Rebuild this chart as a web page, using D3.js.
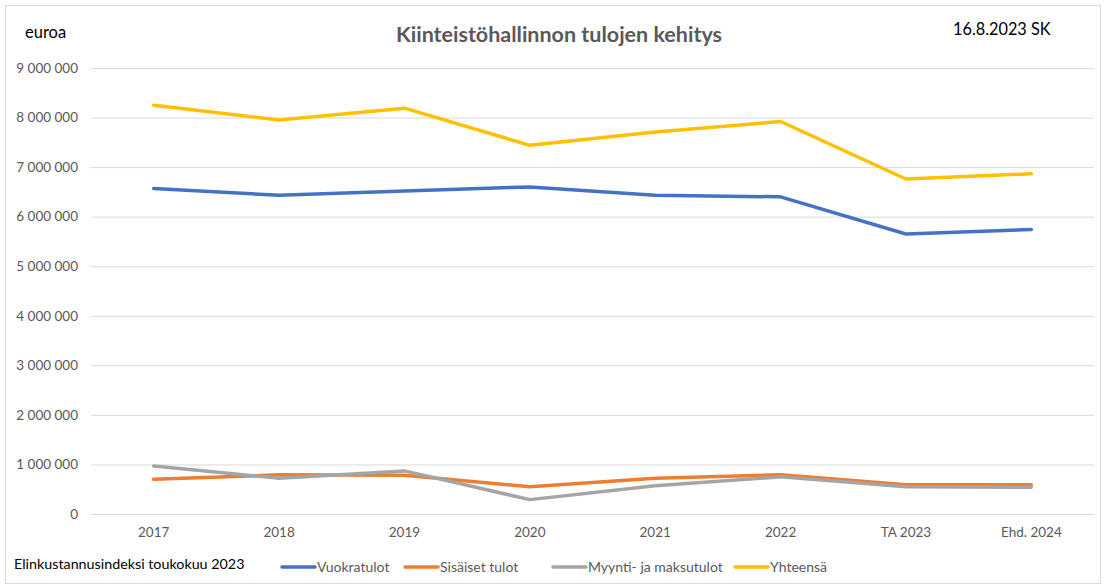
<!DOCTYPE html>
<html>
<head>
<meta charset="utf-8">
<script src="https://cdnjs.cloudflare.com/ajax/libs/d3/7.8.5/d3.min.js"></script>
<style>
  body { margin: 0; background: #fff; }
  text { font-family: Lato, "Liberation Sans", sans-serif; }
</style>
</head>
<body>
<div id="chart"></div>
<script>
// data (euroa)
var years = ["2017", "2018", "2019", "2020", "2021", "2022", "TA 2023", "Ehd. 2024"];
var vuokratulot = [6570000, 6430000, 6520000, 6600000, 6430000, 6400000, 5650000, 5740000];
var sisaisetTulot = [700000, 790000, 780000, 550000, 720000, 790000, 590000, 590000];
var myyntiJaMaksutulot = [970000, 720000, 870000, 290000, 570000, 750000, 550000, 540000];
var yhteensa = [8250000, 7950000, 8190000, 7440000, 7710000, 7920000, 6760000, 6865000];
var yTicks = [0, 1000000, 2000000, 3000000, 4000000, 5000000, 6000000, 7000000, 8000000, 9000000];

var seriesNames = ["Vuokratulot", "Sisäiset tulot", "Myynti- ja maksutulot", "Yhteensä"];
var seriesValues = [vuokratulot, sisaisetTulot, myyntiJaMaksutulot, yhteensa];
var colors = ["#4472C4", "#ED7D31", "#A5A5A5", "#FFC000"];

function lineChart(){
    var W = 1104, H = 587;
    var margin = {top: 68, right: 10, bottom: 73, left: 91};
    var width = W - margin.left - margin.right;
    var height = H - margin.top - margin.bottom;

    var svg = d3.select("#chart")
        .append("svg")
        .attr("width", W)
        .attr("height", H);

    // outer frame
    svg.append("rect")
        .attr("x", 5.5).attr("y", 5.5)
        .attr("width", W - 9).attr("height", H - 9)
        .attr("fill", "none")
        .attr("stroke", "#D9D9D9");

    var g = svg.append("g")
        .attr("transform", "translate(" + margin.left + "," + margin.top + ")");

    var x = d3.scaleBand().domain(years).range([0, width]);
    var y = d3.scaleLinear().domain([0, 9000000]).range([height, 0]);

    var fmt = function(d) { return d3.format(",")(d).replace(/,/g, " "); };

    // gridlines + y labels
    var yAxis = g.append("g")
        .call(d3.axisLeft(y).tickValues(yTicks).tickSize(-width).tickFormat(fmt));
    yAxis.select(".domain").remove();
    yAxis.selectAll(".tick line").attr("stroke", "#D9D9D9");
    yAxis.selectAll(".tick text")
        .attr("x", -13)
        .attr("fill", "#595959")
        .style("font-size", "13.5px");

    // x labels
    var xAxis = g.append("g")
        .attr("transform", "translate(0," + height + ")")
        .call(d3.axisBottom(x).tickSize(0));
    xAxis.select(".domain").remove();
    xAxis.selectAll(".tick text")
        .attr("dy", "1.5em")
        .attr("fill", "#595959")
        .style("font-size", "13.5px");

    var line = d3.line()
        .x(function(d, i) { return x(years[i]) + x.bandwidth() / 2; })
        .y(function(d) { return y(d); });

    seriesValues.forEach(function(vals, i) {
        g.append("path")
            .datum(vals)
            .attr("fill", "none")
            .attr("stroke", colors[i])
            .attr("stroke-width", 3.5)
            .attr("stroke-linejoin", "round")
            .attr("stroke-linecap", "round")
            .attr("d", line);
    });

    // texts
    svg.append("text")
        .attr("x", 25).attr("y", 38)
        .style("font-size", "16.5px")
        .attr("fill", "#000")
        .text("euroa");

    svg.append("text")
        .attr("x", 559).attr("y", 42)
        .attr("text-anchor", "middle")
        .style("font-size", "21.5px")
        .style("font-weight", "bold")
        .attr("fill", "#595959")
        .text("Kiinteistöhallinnon tulojen kehitys");

    svg.append("text")
        .attr("x", 953).attr("y", 35)
        .style("font-size", "16.3px")
        .attr("fill", "#000")
        .text("16.8.2023 SK");

    svg.append("text")
        .attr("x", 14).attr("y", 569)
        .style("font-size", "14.3px")
        .attr("fill", "#000")
        .text("Elinkustannusindeksi toukokuu 2023");

    // legend
    var legendX = [282, 405, 553, 735];
    var legend = svg.append("g");
    seriesNames.forEach(function(name, i) {
        legend.append("line")
            .attr("x1", legendX[i]).attr("x2", legendX[i] + 33)
            .attr("y1", 567).attr("y2", 567)
            .attr("stroke", colors[i])
            .attr("stroke-width", 3.5)
            .attr("stroke-linecap", "round");
        legend.append("text")
            .attr("x", legendX[i] + 35).attr("y", 572)
            .style("font-size", "14px")
            .attr("fill", "#595959")
            .text(name);
    });
}

lineChart();
</script>
</body>
</html>
